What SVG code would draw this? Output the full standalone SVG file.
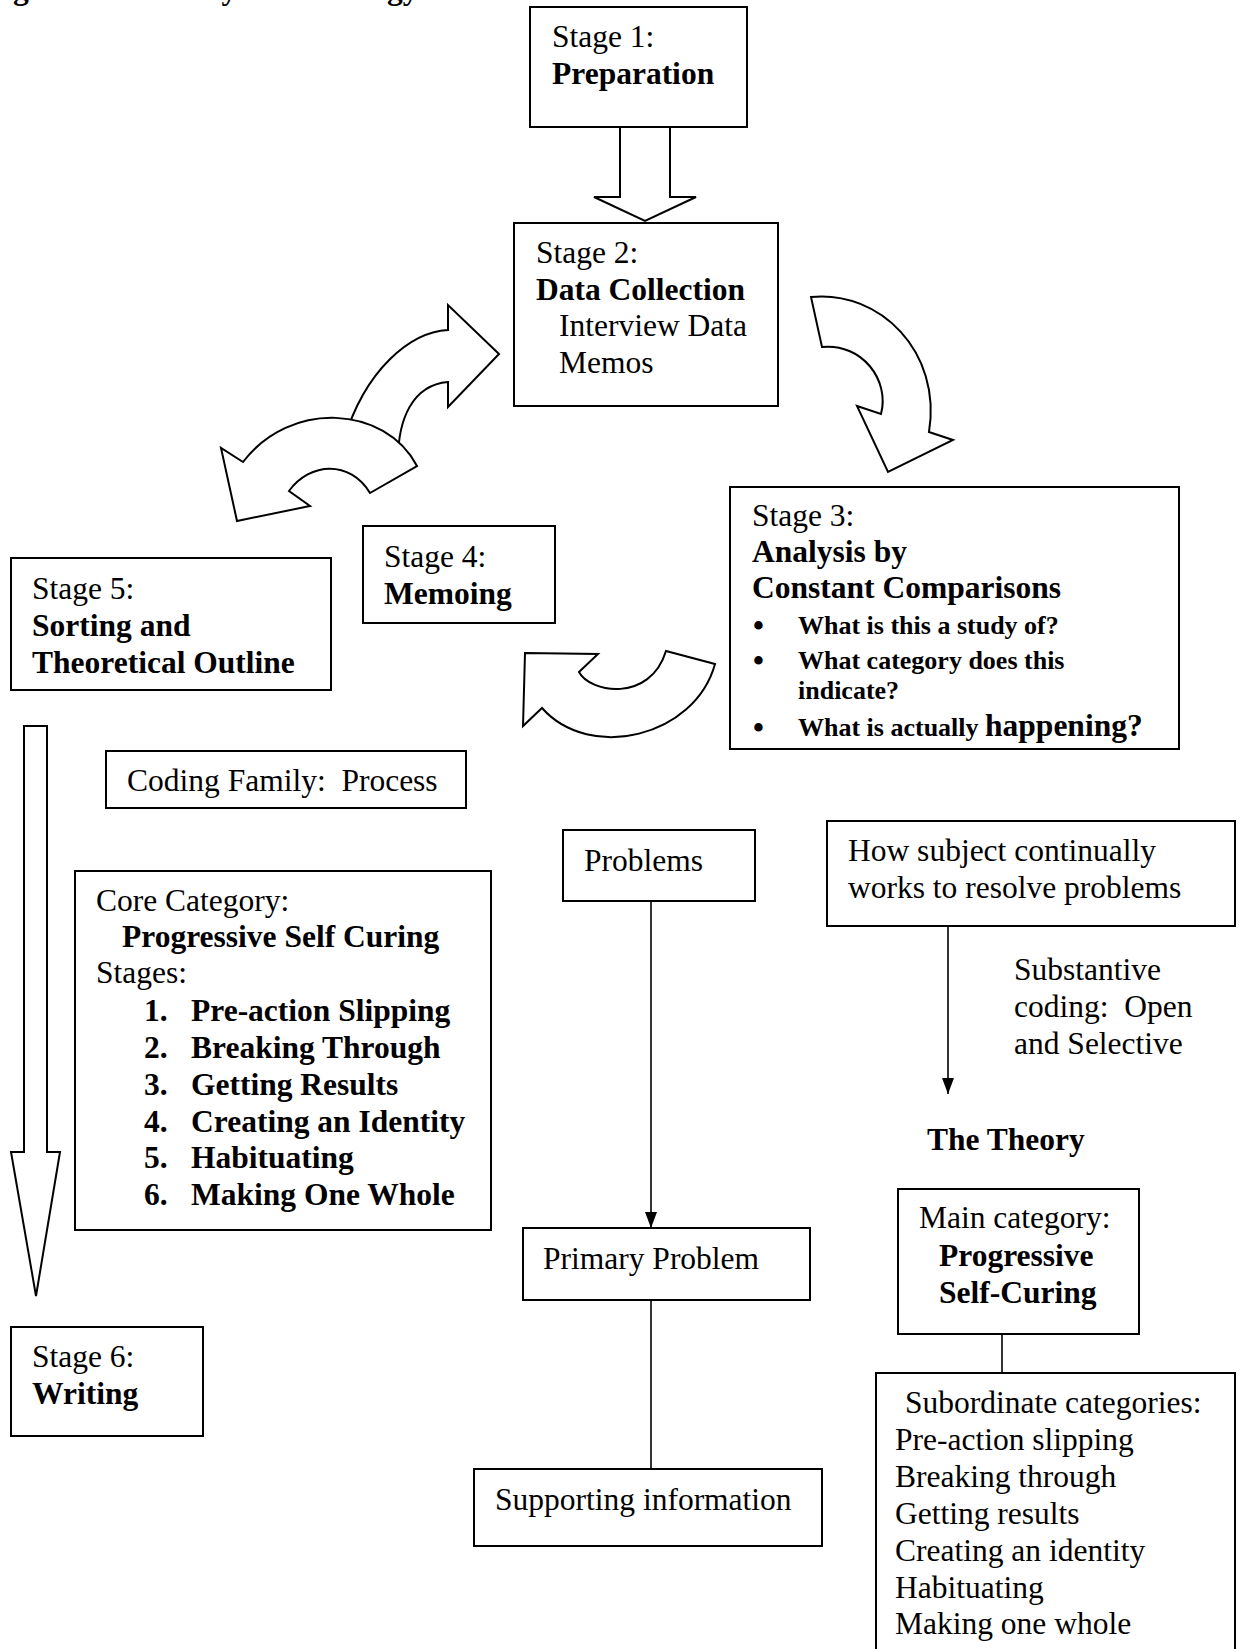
<svg xmlns="http://www.w3.org/2000/svg" width="1241" height="1649" viewBox="0 0 1241 1649">
<style>
.box{fill:#fff;stroke:#000;stroke-width:2}
.t{font-family:"Liberation Serif","Times New Roman",serif;font-size:31.5px;fill:#000}
.b{font-weight:bold}
.s{font-size:26px}
.bl{font-size:31px;font-weight:bold}
.ln{stroke:#000;stroke-width:1.6;fill:none}
.ar{fill:#fff;stroke:#000;stroke-width:2;stroke-linejoin:miter}
</style>
<defs>
<marker id="ah" markerUnits="userSpaceOnUse" markerWidth="16" markerHeight="12" viewBox="0 0 16 12" refX="16" refY="6" orient="auto">
<path d="M0,0 L16,6 L0,12 z" fill="#000"/>
</marker>
</defs>
<rect width="1241" height="1649" fill="#fff"/>
<text class="t b" x="13" y="-1">grounded theory methodology</text>

<g id="connectors">
<path id="arrow-1-2" class="ar" d="M620,127 L670,127 L670,197 L696,197 L645,221 L594,197 L620,197 Z"/>
<path id="arrow-2-3" class="ar" d="M811,297 C880,290 942,352 929,432 L953,440 L888,472 L857,406 L881,414 C890,380 862,343 822,347 Z"/>
<path id="arrow-4-2" class="ar" d="M499,354 L448,305 L448,330 C410,332 365,370 344,440 L398,460 C398,420 412,385 448,382 L448,407 Z"/>
<path id="arrow-2-5" class="ar" d="M417,466 C385,405 290,400 243,462 L221,448 L237,521 L310,506 L289,491 C310,462 350,460 370,493 Z"/>
<path id="arrow-3-4" class="ar" d="M525,653 L598,654 L579,672 C590,693 650,703 666,651 L715,664 C695,737 590,762 542,708 L523,726 Z"/>
<path id="arrow-5-6" class="ar" d="M24,726 L47,726 L47,1152 L60,1152 L36,1296 L11,1152 L24,1152 Z"/>
<line class="ln" x1="651" y1="901" x2="651" y2="1228" marker-end="url(#ah)"/>
<line class="ln" x1="651" y1="1300" x2="651" y2="1469"/>
<line class="ln" x1="948" y1="926" x2="948" y2="1094" marker-end="url(#ah)"/>
<line class="ln" x1="1002" y1="1334" x2="1002" y2="1373"/>
</g>

<g id="stage1">
<rect class="box" x="530" y="7" width="217" height="120"/>
<text class="t" x="552" y="47">Stage 1:</text>
<text class="t b" x="552" y="84">Preparation</text>
</g>

<g id="stage2">
<rect class="box" x="514" y="223" width="264" height="183"/>
<text class="t" x="536" y="263">Stage 2:</text>
<text class="t b" x="536" y="300">Data Collection</text>
<text class="t" x="559" y="336">Interview Data</text>
<text class="t" x="559" y="373">Memos</text>
</g>

<g id="stage3">
<rect class="box" x="730" y="487" width="449" height="262"/>
<text class="t" x="752" y="526">Stage 3:</text>
<text class="t b" x="752" y="562">Analysis by</text>
<text class="t b" x="752" y="598">Constant Comparisons</text>
<text class="t bl" x="753" y="636">•</text>
<text class="t s b" x="798" y="634">What is this a study of?</text>
<text class="t bl" x="753" y="671">•</text>
<text class="t s b" x="798" y="669">What category does this</text>
<text class="t s b" x="798" y="699">indicate?</text>
<text class="t bl" x="753" y="738">•</text>
<text class="t b" x="798" y="736"><tspan class="s">What is actually </tspan>happening?</text>
</g>

<g id="stage4">
<rect class="box" x="363" y="526" width="192" height="97"/>
<text class="t" x="384" y="567">Stage 4:</text>
<text class="t b" x="384" y="604">Memoing</text>
</g>

<g id="stage5">
<rect class="box" x="11" y="558" width="320" height="132"/>
<text class="t" x="32" y="599">Stage 5:</text>
<text class="t b" x="32" y="636">Sorting and</text>
<text class="t b" x="32" y="673">Theoretical Outline</text>
</g>

<g id="coding-family">
<rect class="box" x="106" y="751" width="360" height="57"/>
<text class="t" x="127" y="791" xml:space="preserve">Coding Family:  Process</text>
</g>

<g id="core-category">
<rect class="box" x="75" y="871" width="416" height="359"/>
<text class="t" x="96" y="911">Core Category:</text>
<text class="t b" x="122" y="947">Progressive Self Curing</text>
<text class="t" x="96" y="983">Stages:</text>
<text class="t b" x="144" y="1021">1.</text><text class="t b" x="191" y="1021">Pre-action Slipping</text>
<text class="t b" x="144" y="1058">2.</text><text class="t b" x="191" y="1058">Breaking Through</text>
<text class="t b" x="144" y="1095">3.</text><text class="t b" x="191" y="1095">Getting Results</text>
<text class="t b" x="144" y="1132">4.</text><text class="t b" x="191" y="1132">Creating an Identity</text>
<text class="t b" x="144" y="1168">5.</text><text class="t b" x="191" y="1168">Habituating</text>
<text class="t b" x="144" y="1205">6.</text><text class="t b" x="191" y="1205">Making One Whole</text>
</g>

<g id="stage6">
<rect class="box" x="11" y="1327" width="192" height="109"/>
<text class="t" x="32" y="1367">Stage 6:</text>
<text class="t b" x="32" y="1404">Writing</text>
</g>

<g id="problems">
<rect class="box" x="563" y="830" width="192" height="71"/>
<text class="t" x="584" y="871">Problems</text>
</g>

<g id="primary-problem">
<rect class="box" x="523" y="1228" width="287" height="72"/>
<text class="t" x="543" y="1269">Primary Problem</text>
</g>

<g id="supporting-info">
<rect class="box" x="474" y="1469" width="348" height="77"/>
<text class="t" x="495" y="1510">Supporting information</text>
</g>

<g id="how-subject">
<rect class="box" x="827" y="821" width="408" height="105"/>
<text class="t" x="848" y="861">How subject continually</text>
<text class="t" x="848" y="898">works to resolve problems</text>
</g>

<g id="substantive-label">
<text class="t" x="1014" y="980">Substantive</text>
<text class="t" x="1014" y="1017" xml:space="preserve">coding:  Open</text>
<text class="t" x="1014" y="1054">and Selective</text>
</g>

<g id="the-theory">
<text class="t b" x="927" y="1150">The Theory</text>
</g>

<g id="main-category">
<rect class="box" x="898" y="1189" width="241" height="145"/>
<text class="t" x="919" y="1228">Main category:</text>
<text class="t b" x="939" y="1266">Progressive</text>
<text class="t b" x="939" y="1303">Self-Curing</text>
</g>

<g id="subordinate">
<rect class="box" x="876" y="1373" width="359" height="300"/>
<text class="t" x="905" y="1413">Subordinate categories:</text>
<text class="t" x="895" y="1450">Pre-action slipping</text>
<text class="t" x="895" y="1487">Breaking through</text>
<text class="t" x="895" y="1524">Getting results</text>
<text class="t" x="895" y="1561">Creating an identity</text>
<text class="t" x="895" y="1598">Habituating</text>
<text class="t" x="895" y="1634">Making one whole</text>
</g>
</svg>
